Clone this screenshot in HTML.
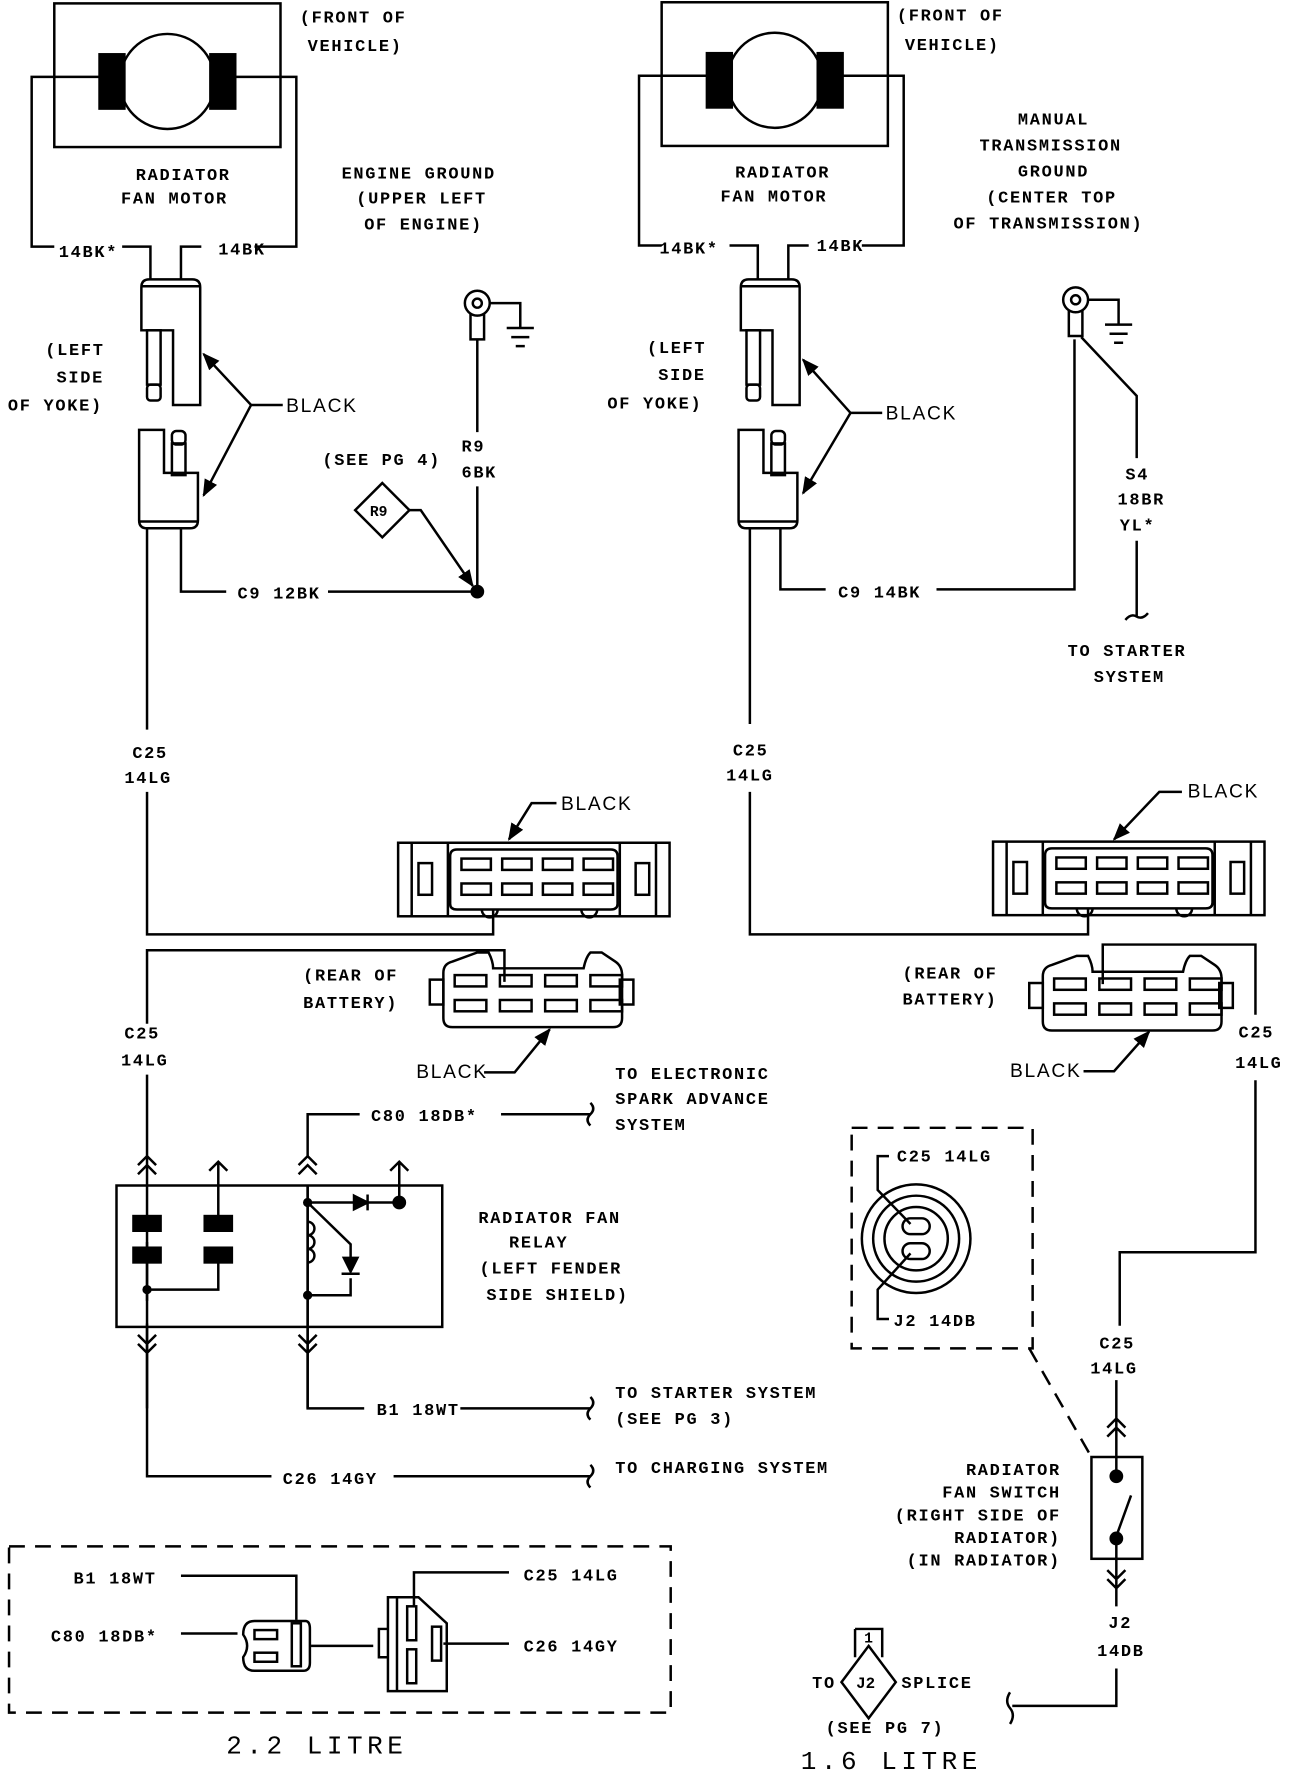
<!DOCTYPE html>
<html><head><meta charset="utf-8"><style>
html,body{margin:0;padding:0;background:#fff;}
svg{display:block;}
text{font-family:"Liberation Mono",monospace;font-size:15px;letter-spacing:1.5px;fill:#000;font-weight:bold;}
</style></head><body>
<svg width="1312" height="1776" viewBox="0 0 1160 1570" preserveAspectRatio="none" xmlns="http://www.w3.org/2000/svg">
<defs>
<marker id="ar" viewBox="0 0 10 10" refX="9" refY="5" markerWidth="7" markerHeight="7" orient="auto"><path d="M0,1 L10,5 L0,9 Z" fill="#000"/></marker>
<g id="motor" fill="none" stroke="#000" stroke-width="2.2">
<rect x="0" y="0" width="200" height="127"/>
<circle cx="100" cy="69" r="42"/>
<rect x="40" y="45" width="22" height="48" fill="#000"/>
<rect x="138" y="45" width="22" height="48" fill="#000"/>
<path d="M40,65 H-20 V215 H0 M160,65 H214 V215 H177 M60,215 H85 V245 M112,245 V215 H130"/>
</g>
<g id="yoke" fill="none" stroke="#000" stroke-width="2.2">
<path d="M125,292 V254 Q125,247 132,247 H170 Q177,247 177,254 V358 H153 V292 Z M125,253 H177"/>
<rect x="130" y="292" width="12" height="48"/><rect x="130" y="340" width="12" height="14" rx="3"/>
<path d="M123,380 H145 V418 H175 V460 Q175,467 168,467 H130 Q123,467 123,460 Z M123,461 H175"/>
<rect x="152" y="392" width="12" height="28"/><rect x="152" y="381" width="12" height="12" rx="4"/>
</g>
<g id="blk" fill="none" stroke="#000" stroke-width="2.2">
<rect x="0" y="0" width="240" height="65"/>
<path d="M12,0 V65 M44,0 V65 M196,0 V65 M228,0 V65"/>
<rect x="18" y="18" width="12" height="28"/><rect x="210" y="18" width="12" height="28"/>
<path d="M52,6 H188 Q194,6 194,12 V54 Q194,59 188,59 H52 Q46,59 46,54 V12 Q46,6 52,6 Z" fill="#fff"/>
<path d="M74,59 A7,7 0 0 0 88,59 M162,59 A7,7 0 0 0 176,59"/>
<rect x="56" y="14" width="26" height="10"/><rect x="92" y="14" width="26" height="10"/><rect x="128" y="14" width="26" height="10"/><rect x="164" y="14" width="26" height="10"/>
<rect x="56" y="36" width="26" height="10"/><rect x="92" y="36" width="26" height="10"/><rect x="128" y="36" width="26" height="10"/><rect x="164" y="36" width="26" height="10"/>
</g>
<g id="bat" fill="none" stroke="#000" stroke-width="2.2">
<rect x="0" y="24" width="12" height="22"/><rect x="168" y="24" width="12" height="22"/>
<path d="M20,8 L42,0 H52 Q56,8 56,14 H136 Q138,4 142,0 H152 L164,8 Q170,12 170,20 V58 Q170,66 162,66 H20 Q12,66 12,58 V18 Q12,10 20,8 Z"/>
<rect x="22" y="20" width="28" height="10"/><rect x="62" y="20" width="28" height="10"/><rect x="102" y="20" width="28" height="10"/><rect x="142" y="20" width="28" height="10"/>
<rect x="22" y="42" width="28" height="10"/><rect x="62" y="42" width="28" height="10"/><rect x="102" y="42" width="28" height="10"/><rect x="142" y="42" width="28" height="10"/>
</g>
<g id="gnd" fill="none" stroke="#000" stroke-width="2.2">
<circle cx="0" cy="0" r="11"/><circle cx="0" cy="0" r="4"/>
<path d="M-6,9 V32 H6 V9 M11,0 H38 V22 M26,22 H50 M30,30 H46 M34,38 H42"/>
</g>
</defs>

<g fill="none" stroke="#000" stroke-width="2.2">
<use href="#motor" x="48" y="3"/>
<use href="#yoke"/>
<path d="M130,467 V645 M160,467 V523 H200 M290,523 H422 M422,300 V382 M422,430 V523"/>
<circle cx="422" cy="523" r="5" fill="#000"/>
<use href="#gnd" x="422" y="268"/>
<path d="M338,427 L362,451 L338,475 L314,451 Z"/>
<path d="M362,451 H372 L418,518" marker-end="url(#ar)"/>
<path d="M250,358 H222 L180,313" marker-end="url(#ar)"/>
<path d="M222,358 L180,438" marker-end="url(#ar)"/>
<path d="M130,700 V826 H436 V792"/>
<use href="#blk" x="352" y="745"/>
<path d="M492,710 H470 L450,742" marker-end="url(#ar)"/>
<use href="#bat" x="380" y="842"/>
<path d="M130,905 V840 H446 V868"/>
<path d="M428,948 H455 L486,910" marker-end="url(#ar)"/>
<path d="M130,950 V1150 M130,1170 V1305 H240 M348,1305 H522 M272,1022 V985 H318 M443,985 H522 M272,1048 V1245 H322 M407,1245 H522"/>
<path d="M522,1295 q5,5 0,10 q-5,5 0,10 M522,975 q5,5 0,10 q-5,5 0,10 M522,1235 q5,5 0,10 q-5,5 0,10"/>
<path d="M122,1030 L130,1022 L138,1030 M122,1038 L130,1030 L138,1038 M264,1030 L272,1022 L280,1030 M264,1038 L272,1030 L280,1038 M185,1035 L193,1027 L201,1035 M345,1035 L353,1027 L361,1035 M193,1027 V1078 M353,1027 V1063"/>
<path d="M122,1180 L130,1188 L138,1180 M122,1188 L130,1196 L138,1188 M264,1180 L272,1188 L280,1180 M264,1188 L272,1196 L280,1188 M130,1173 V1245 M272,1173 V1245"/>
<rect x="103" y="1048" width="288" height="125"/>
<path d="M130,1140 V1173 M130,1098 V1140 H193 V1110 M272,1048 V1173 M272,1063 H313 M325,1063 H353 M272,1063 L310,1100 V1117 M272,1145 H310 V1130 M272,1080 a6,6 0 0 1 0,12 a6,6 0 0 1 0,12 a6,6 0 0 1 0,12"/>
<circle cx="130" cy="1140" r="3" fill="#000"/><circle cx="272" cy="1063" r="3" fill="#000"/><circle cx="272" cy="1145" r="3" fill="#000"/>
<circle cx="353" cy="1063" r="5" fill="#000"/>
<path d="M313,1057 L325,1063 L313,1069 Z M325,1056 V1070 M304,1112 L316,1112 L310,1124 Z M302,1126 H318" fill="#000"/>
<rect x="118" y="1075" width="24" height="13" fill="#000"/><rect x="181" y="1075" width="24" height="13" fill="#000"/>
<rect x="118" y="1103" width="24" height="13" fill="#000"/><rect x="181" y="1103" width="24" height="13" fill="#000"/>
<rect x="8" y="1367" width="585" height="147" stroke-dasharray="14,9"/>
<path d="M160,1393 H262 V1432 M160,1444 H210 M275,1455 H330 M366,1420 V1390 H450 M392,1453 H450"/>
<path d="M225,1433 H270 Q274,1433 274,1440 V1470 Q274,1477 268,1477 H225 Q215,1477 215,1465 Q222,1455 215,1445 Q215,1433 225,1433 Z"/>
<rect x="258" y="1435" width="8" height="38"/><rect x="225" y="1441" width="20" height="8"/><rect x="225" y="1461" width="20" height="8"/>
<path d="M343,1412 H370 L395,1435 V1495 H343 Z M351,1412 V1495 M335,1440 H343 V1465 H335 Z"/>
<rect x="360" y="1420" width="8" height="30"/><rect x="360" y="1458" width="8" height="30"/><rect x="382" y="1438" width="8" height="30"/>

<use href="#motor" x="585" y="2"/>
<use href="#yoke" x="530" y="0"/>
<path d="M663,467 V640 M690,467 V521 H730 M828,521 H950 V300"/>
<use href="#gnd" x="951" y="265"/>
<path d="M956,298 L1005,350 V405 M1005,478 V545 M995,548 q5,-6 10,-3 q5,3 10,-3"/>
<path d="M780,365 H752 L710,318" marker-end="url(#ar)"/>
<path d="M752,365 L710,436" marker-end="url(#ar)"/>
<path d="M663,700 V826 H962 V792"/>
<use href="#blk" x="878" y="744"/>
<path d="M1045,700 H1025 L985,742" marker-end="url(#ar)"/>
<use href="#bat" x="910" y="845"/>
<path d="M975,870 V835 H1110 V897 M1110,955 V1107 H990 V1172"/>
<path d="M958,947 H985 L1016,912" marker-end="url(#ar)"/>
<path d="M987,1220 V1288 M979,1262 L987,1254 L995,1262 M979,1270 L987,1262 L995,1270 M987,1378 V1420 M979,1388 L987,1396 L995,1388 M979,1396 L987,1404 L995,1396"/>
<rect x="965" y="1288" width="45" height="90"/>
<path d="M987,1288 V1305 M987,1360 V1378 M987,1358 L1000,1322"/>
<circle cx="987" cy="1305" r="5" fill="#000"/><circle cx="987" cy="1360" r="5" fill="#000"/>
<path d="M987,1475 V1508 H895 M893,1496 q-5,8 0,14 q5,6 0,14"/>
<rect x="753" y="997" width="160" height="195" stroke-dasharray="14,9"/>
<path d="M910,1192 L965,1288" stroke-dasharray="14,9"/>
<circle cx="810" cy="1095" r="48"/><circle cx="810" cy="1095" r="38"/><circle cx="810" cy="1095" r="28"/>
<rect x="798" y="1077" width="24" height="14" rx="7"/><rect x="798" y="1099" width="24" height="14" rx="7"/>
<path d="M786,1022 H776 V1052 L805,1082 M786,1166 H776 V1140 L805,1108"/>
<path d="M756,1440 H780 V1465 M756,1440 V1465 M768,1455 L792,1487 L768,1519 L744,1487 Z"/>
</g>

<g>
<text x="265" y="20">(FRONT OF</text><text x="272" y="45">VEHICLE)</text>
<text x="120" y="159">RADIATOR</text><text x="107" y="180">FAN MOTOR</text>
<text x="52" y="227">14BK*</text><text x="193" y="225">14BK</text>
<text x="302" y="158">ENGINE GROUND</text><text x="315" y="180">(UPPER LEFT</text><text x="322" y="203">OF ENGINE)</text>
<text x="40" y="314">(LEFT</text><text x="50" y="338">SIDE</text><text x="7" y="363">OF YOKE)</text>
<text x="253" y="364" style="font-family:'Liberation Sans',sans-serif;font-size:17px;font-weight:normal">BLACK</text>
<text x="408" y="399">R9</text><text x="408" y="422">6BK</text>
<text x="285" y="411">(SEE PG 4)</text>
<text x="327" y="456" style="font-size:13px;letter-spacing:0">R9</text>
<text x="210" y="529">C9 12BK</text>
<text x="117" y="670">C25</text><text x="110" y="692">14LG</text>
<text x="496" y="716" style="font-family:'Liberation Sans',sans-serif;font-size:17px;font-weight:normal">BLACK</text>
<text x="268" y="867">(REAR OF</text><text x="268" y="891">BATTERY)</text>
<text x="110" y="918">C25</text><text x="107" y="942">14LG</text>
<text x="368" y="953" style="font-family:'Liberation Sans',sans-serif;font-size:17px;font-weight:normal">BLACK</text>
<text x="544" y="954">TO ELECTRONIC</text><text x="544" y="976">SPARK ADVANCE</text><text x="544" y="999">SYSTEM</text>
<text x="328" y="991">C80 18DB*</text>
<text x="423" y="1081">RADIATOR FAN</text><text x="450" y="1103">RELAY</text><text x="424" y="1126">(LEFT FENDER</text><text x="430" y="1149">SIDE SHIELD)</text>
<text x="333" y="1251">B1 18WT</text>
<text x="544" y="1236">TO STARTER SYSTEM</text><text x="544" y="1259">(SEE PG 3)</text>
<text x="250" y="1312">C26 14GY</text>
<text x="544" y="1302">TO CHARGING SYSTEM</text>
<text x="65" y="1400">B1 18WT</text><text x="45" y="1451">C80 18DB*</text>
<text x="463" y="1397">C25 14LG</text><text x="463" y="1460">C26 14GY</text>
<text x="200" y="1550" style="font-size:23px;letter-spacing:4px;font-weight:normal">2.2 LITRE</text>

<text x="793" y="18">(FRONT OF</text><text x="800" y="44">VEHICLE)</text>
<text x="650" y="157">RADIATOR</text><text x="637" y="178">FAN MOTOR</text>
<text x="583" y="224">14BK*</text><text x="722" y="222">14BK</text>
<text x="900" y="110">MANUAL</text><text x="866" y="133">TRANSMISSION</text><text x="900" y="156">GROUND</text><text x="872" y="179">(CENTER TOP</text><text x="843" y="202">OF TRANSMISSION)</text>
<text x="572" y="312">(LEFT</text><text x="582" y="336">SIDE</text><text x="537" y="361">OF YOKE)</text>
<text x="783" y="371" style="font-family:'Liberation Sans',sans-serif;font-size:17px;font-weight:normal">BLACK</text>
<text x="995" y="424">S4</text><text x="988" y="446">18BR</text><text x="990" y="469">YL*</text>
<text x="741" y="528">C9 14BK</text>
<text x="944" y="580">TO STARTER</text><text x="967" y="603">SYSTEM</text>
<text x="648" y="668">C25</text><text x="642" y="690">14LG</text>
<text x="1050" y="705" style="font-family:'Liberation Sans',sans-serif;font-size:17px;font-weight:normal">BLACK</text>
<text x="798" y="865">(REAR OF</text><text x="798" y="888">BATTERY)</text>
<text x="893" y="952" style="font-family:'Liberation Sans',sans-serif;font-size:17px;font-weight:normal">BLACK</text>
<text x="1095" y="917">C25</text><text x="1092" y="944">14LG</text>
<text x="793" y="1027">C25 14LG</text><text x="790" y="1172">J2 14DB</text>
<text x="972" y="1192">C25</text><text x="964" y="1214">14LG</text>
<g style="text-anchor:end"><text x="938" y="1304">RADIATOR</text><text x="938" y="1324">FAN SWITCH</text><text x="938" y="1344">(RIGHT SIDE OF</text><text x="938" y="1364">RADIATOR)</text><text x="938" y="1384">(IN RADIATOR)</text></g>
<text x="980" y="1439">J2</text><text x="970" y="1464">14DB</text>
<text x="764" y="1452" style="font-size:13px">1</text>
<text x="757" y="1492" style="font-size:14px;letter-spacing:0">J2</text>
<text x="718" y="1492">TO</text><text x="797" y="1492">SPLICE</text>
<text x="730" y="1532">(SEE PG 7)</text>
<text x="708" y="1564" style="font-size:23px;letter-spacing:4px;font-weight:normal">1.6 LITRE</text>
</g>
</svg>
</body></html>
